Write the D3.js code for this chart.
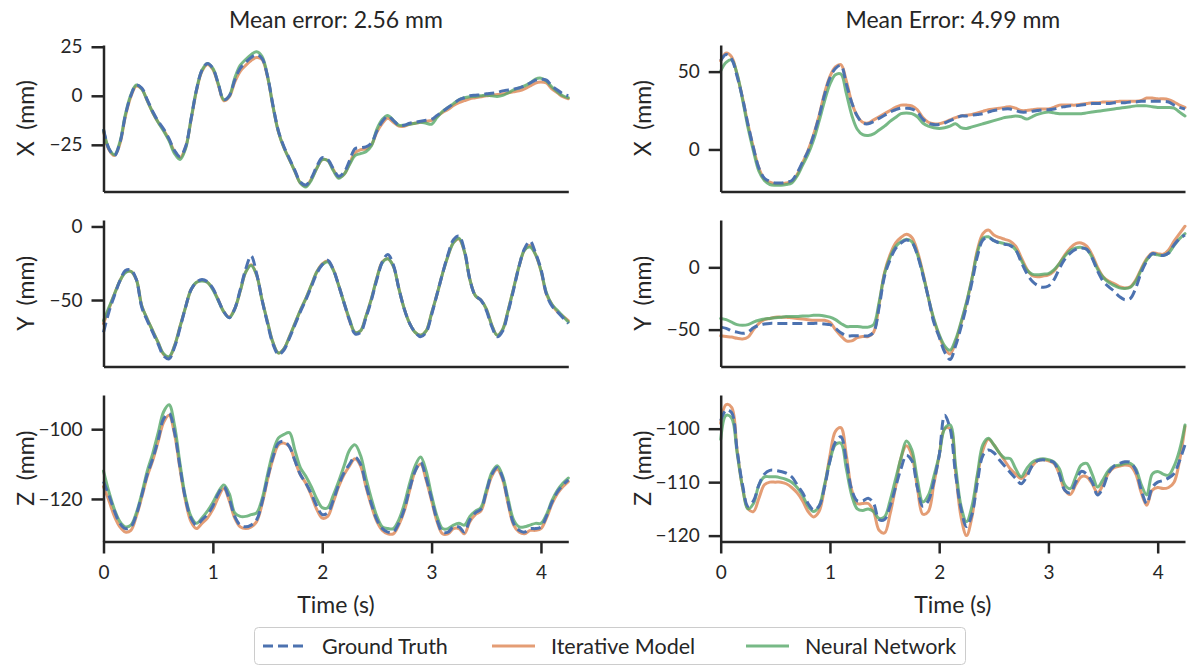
<!DOCTYPE html>
<html>
<head>
<meta charset="utf-8">
<script src="https://cdn.jsdelivr.net/npm/d3@7"></script>
<style>
  body { margin: 0; background: #fff; }
  svg { font-family: Lato, "Open Sans", sans-serif; }
  text { white-space: pre; }
</style>
</head>
<body>
<svg id="chart" width="1191" height="666"></svg>
<script>
// Time axis shared by every panel (seconds)
const time = [
  0,0.05,0.1,0.15,0.2,0.25,0.3,0.35,0.4,0.45,
  0.5,0.55,0.6,0.65,0.7,0.75,0.8,0.85,0.9,0.95,
  1,1.05,1.1,1.15,1.2,1.25,1.3,1.35,1.4,1.45,
  1.5,1.55,1.6,1.65,1.7,1.75,1.8,1.85,1.9,1.95,
  2,2.05,2.1,2.15,2.2,2.25,2.3,2.35,2.4,2.45,
  2.5,2.55,2.6,2.65,2.7,2.75,2.8,2.85,2.9,2.95,
  3,3.05,3.1,3.15,3.2,3.25,3.3,3.35,3.4,3.45,
  3.5,3.55,3.6,3.65,3.7,3.75,3.8,3.85,3.9,3.95,
  4,4.05,4.1,4.15,4.2,4.25
];

const seriesNames = ["Ground Truth", "Iterative Model", "Neural Network"];
const titles = ["Mean error: 2.56 mm", "Mean Error: 4.99 mm"];
const axisNames = ["X", "Y", "Z"];
const xTicks = [0, 1, 2, 3, 4];

// ---- left trial, X ----
const lxTruth = [
  -17,-27,-30.5,-24,-10,0,5.5,4,-2,-8,
  -13,-17,-22,-28,-31,-26,-12,3,13,16.5,
  14,6,-2,0,8,14,17,19.5,21,19,
  10,-5,-18,-26,-32,-38,-44,-45.5,-42,-36,
  -31.5,-32.5,-37,-41,-39,-33,-27,-26.5,-26,-24,
  -18,-13,-10.5,-12.5,-15,-15,-14,-13.5,-13,-12.5,
  -12,-10,-8,-6,-4,-2,-1,0,0.3,0.5,
  1,1.3,1.7,2.5,3,3.5,4,5,6.5,8,
  8.5,8,5,3,1,0
];
const lxIter = [
  -18,-27.5,-30.5,-24.5,-10.5,-0.5,5,3.5,-2.5,-8.5,
  -13.5,-17.5,-22.5,-28.5,-31.5,-26.5,-12.5,2.5,12.5,16,
  13.5,5.5,-2.5,-0.5,7,12.5,15.5,18,19.5,18.5,
  9.5,-5.5,-18.5,-26.5,-32.5,-38.5,-44.5,-46,-42.5,-37,
  -32.5,-33,-37.5,-41.5,-40,-34.5,-29,-27.5,-27,-25,
  -18.5,-14,-11.5,-13.5,-15.5,-15.5,-14.5,-14,-13.5,-13,
  -12.5,-10.5,-8.5,-7,-5,-3.5,-2.5,-1.5,-1,-0.5,
  0,0.3,0.7,1,1.5,2,2.5,3.5,5,6.5,
  7,6.5,3.5,1.5,-0.5,-1.5
];
const lxNet = [
  -17.5,-27,-30,-23.5,-9.5,0.5,5.5,3.5,-2.5,-8.5,
  -13.5,-18,-23,-29.5,-32.5,-27,-12,3,13,16.5,
  14,6,-2,0,9,15.5,18.5,21,22.5,20,
  10,-5.5,-18.5,-26.5,-32.5,-38.5,-44.5,-46.5,-43,-37,
  -32.5,-33,-38,-42,-40,-35,-30.5,-29.5,-28.5,-25.5,
  -17,-12,-10,-12.5,-15,-15,-14.5,-14,-13.5,-14,
  -14.5,-11,-8,-6,-4,-2,-1,-0.5,-0.3,0,
  0.3,0,-0.3,0.2,1.5,3,4,5,6.5,8.5,
  9,7.5,4.5,2,0,-1
];

// ---- left trial, Y ----
const lyTruth = [
  -72,-58,-47,-37,-30,-29.5,-36,-55,-64,-72,
  -80,-88,-90,-82,-69,-55,-43,-38,-36,-37.5,
  -42,-50,-58,-62,-56,-43,-29,-20,-32,-50,
  -66,-80,-87,-84,-76,-67,-58,-50,-41,-32,
  -26,-23,-29,-40,-52,-64,-73,-72,-62,-50,
  -36,-24,-19,-26,-42,-56,-66,-72,-75,-72,
  -60,-46,-32,-19,-9,-6.5,-16,-36,-47,-50,
  -57,-68,-75,-71,-58,-43,-27,-15,-10,-18,
  -29,-46,-54,-58,-62,-66
];
const lyIter = [
  -66,-56,-46,-37,-31,-30.5,-36,-54,-63,-71,
  -79,-87,-89,-81,-68,-55,-43,-38,-36.5,-38,
  -42.5,-50,-58,-61.5,-56,-44,-31,-26,-33,-50,
  -65,-79,-86,-83,-75,-66,-57,-49,-40,-31,
  -25.5,-23.5,-29,-40,-52,-64,-72,-71,-61,-49,
  -35,-24,-22,-27,-42,-56,-66,-72,-74,-71,
  -59,-46,-32,-20,-11,-8.5,-17,-36,-47,-50,
  -56,-67,-74,-70,-57,-42,-27,-16,-13,-19,
  -30,-46,-53,-58,-61,-64
];
const lyNet = [
  -64,-55,-46,-37,-31.5,-30.5,-36,-54,-63,-71,
  -79,-86.5,-88.5,-81,-68,-55,-43,-38,-37,-38,
  -43,-50.5,-58,-62,-56,-44,-31,-26.5,-33,-50,
  -65,-79,-86,-83,-75,-66,-57,-49,-40,-31,
  -26,-24,-29.5,-40,-52,-63,-72,-71,-61,-49,
  -35,-24.5,-22,-27,-42,-56,-66,-72,-74,-71,
  -59,-46,-32,-20,-11,-8,-17,-36,-47,-50,
  -56,-67,-74,-70,-57,-42,-27,-16,-14,-19,
  -30,-45,-53,-57,-61,-65
];

// ---- left trial, Z ----
const lzTruth = [
  -115,-119,-123.5,-127,-128.5,-128,-124.5,-119,-113,-108.5,
  -103,-97,-95.5,-101,-111,-120,-125.5,-127.5,-126,-124.5,
  -122,-118.5,-116.5,-120,-125,-127.5,-128,-127.5,-126,-121,
  -114,-108,-104,-103.5,-105,-109,-113,-115.5,-118.5,-122,
  -124.5,-124,-120.5,-116,-112.5,-110,-108,-110,-116,-121.5,
  -126,-128.5,-129.5,-129.5,-127,-123,-117,-112,-109.5,-114,
  -120,-126,-129.5,-129.5,-128,-128,-129.5,-126,-124,-123,
  -118,-113,-111,-114,-121,-127,-129,-129.5,-128.5,-128.5,
  -128,-125,-121,-118,-116,-114.5
];
const lzIter = [
  -116.5,-120.5,-125,-128,-129.5,-129,-125,-119.5,-113.5,-109,
  -103.5,-98,-96,-101.5,-111.5,-120.5,-126.5,-128.5,-127,-125.5,
  -123,-119.5,-117,-120.5,-125.5,-128,-128.5,-128,-126.5,-121.5,
  -114.5,-108.5,-104.5,-104,-105,-109,-113,-115.5,-119,-123,
  -125.5,-125,-121,-116.5,-113,-110.5,-108.5,-110.5,-116.5,-122,
  -126.5,-129,-130,-130,-127.5,-123.5,-117.5,-112,-110,-114.5,
  -120.5,-126.5,-130,-130,-128.5,-128.5,-130,-126.5,-124.5,-123.5,
  -118.5,-113.5,-111.5,-114.5,-121.5,-127.5,-129.5,-130,-129,-129,
  -128.5,-125.5,-121.5,-118.5,-116.5,-115
];
const lzNet = [
  -112,-118,-123,-126.5,-128,-127.5,-124,-118.5,-112,-107,
  -101,-95,-93,-99,-110,-119.5,-125,-127,-125.5,-123.5,
  -121,-118,-116,-118.5,-124,-125,-125,-124.5,-124,-120,
  -113,-106.5,-102.5,-101.5,-101,-106,-111,-113.5,-116.5,-120,
  -122.5,-122.5,-119,-115,-110.5,-106,-104.5,-107.5,-114,-120,
  -125,-128,-128.5,-128.5,-126,-121.5,-115.5,-110.5,-108,-112,
  -119,-125,-128.5,-128.5,-127.5,-127,-127.5,-125,-123.5,-122.5,
  -117.5,-112.5,-110.5,-113.5,-120,-126,-128,-128,-127.5,-127,
  -127,-124.5,-120.5,-117.5,-115.5,-114
];

// ---- right trial, X ----
const rxTruth = [
  57,61,58,47,33,16,1,-12,-18.5,-20.5,
  -21.5,-21.5,-21,-20,-15,-8,-1,9,21,35,
  46,52,54,42,30,21.5,17,16.5,18,20,
  22,24,25.5,26.5,26.5,26,24,19.5,17,16,
  16,17,18.5,20,21.5,21.5,22,22.5,23,24,
  25,25.5,26,26,25,24,24,24.5,25,25.5,
  25.5,26,27,27.5,28,28,28.5,29,29.5,29.5,
  29.5,29.5,30,30,30,30.5,30.5,31,31,31,
  31,31,30.5,28.5,27,26
];
const rxIter = [
  57,62,59.5,48,33,16,1,-12,-19,-21,
  -22,-22,-21.5,-20.5,-16,-8.5,-0.5,9.5,21.5,36,
  47,53,54.5,44,30,21.5,17.5,17,19,21,
  23,25,27,28.5,28.5,28,25.5,20.5,17.5,16.5,
  16.5,17.5,19,20.5,21.5,22,22.5,23.5,24.5,25.5,
  26,26.5,27,27.5,26.5,25,25,25.5,26,26,
  26,27,28.5,28.5,28.5,28.5,29,29.5,30,30,
  30.5,30.5,30.5,31,31,31,31,31.5,33,33,
  32.5,32.5,32,30.5,28.5,27
];
const rxNet = [
  50.5,56,57.5,48.5,32,14,-1,-14,-20,-22.5,
  -23,-23,-22.5,-21.5,-17,-10,-3,6,18,31,
  42,48,48.5,36,22,13,9.5,9,10,12.5,
  15,18,20.5,23,23.5,23,21,17,15,14,
  13.5,14,15,16.5,14,13.5,14.5,15.5,16.5,17.5,
  18.5,19.5,20.5,21,21.5,21,19.5,21,22.5,23.5,
  24,23.5,23,23,23,23,23,23.5,24,24.5,
  25,25.5,26,26.5,27,27.5,28,28,28,27.5,
  27,27,27,26.5,24,21.5
];

// ---- right trial, Y ----
const ryTruth = [
  -48,-49,-51,-52,-53,-52,-48.5,-46.5,-45.5,-45,
  -45,-45,-45,-45,-45,-45,-45,-45,-45,-45.5,
  -46,-49,-52.5,-55,-55,-55,-55,-55,-52,-32,
  -7,6,15,19.5,22,20,10,-6,-24,-44,
  -56,-68,-74,-63,-48,-31,-12,9,22,24,
  21.5,19.5,18.5,17.5,14,4.5,-4.5,-11,-14.5,-16,
  -15,-10,-1,6.5,11.5,14.5,15.5,14.5,7.5,-3,
  -11,-15.5,-19,-23.5,-26,-25,-16.5,-4,5,11,
  10,9.5,11.5,18,23,26
];
const ryIter = [
  -55,-55.5,-56,-57,-57.5,-56,-50,-45,-42,-41,
  -40,-40,-40,-40.5,-41,-41.5,-42,-42.5,-42.5,-42.5,
  -44,-50,-55,-59,-59,-56.5,-55.5,-55.5,-52,-30,
  -4,10,19.5,24,26.5,24,13,-4,-24,-42,
  -55,-65,-69.5,-60,-45,-29,-9,14,27,30,
  26,24,22.5,21,17,8,-1,-6.5,-7.5,-7,
  -6,-3,3,10,15.5,19,19.5,17,10,0,
  -7.5,-11,-13,-15.5,-16.5,-15.5,-10,-1,7,11.5,
  11,10.5,14,21,27,33
];
const ryNet = [
  -41,-42,-44,-46,-46.5,-46,-44,-42.5,-41.5,-41,
  -40.5,-40,-39.5,-39.5,-39.5,-39,-39,-38.5,-38.5,-39,
  -40,-42,-45,-47.5,-47.5,-47.5,-48,-48,-46,-28,
  -5,8,16.5,20.5,22.5,20.5,10.5,-5,-24,-41,
  -54,-63,-66.5,-58,-44,-28,-9,12,23.5,24.5,
  21.5,20,19,18,14,6,-2,-5.5,-6,-5.5,
  -5,-2,3,9,13.5,15.5,16,14.5,8,-1.5,
  -8,-12,-14.5,-16.5,-17,-16,-11,-2,6,10.5,
  10,9.5,11.5,17.5,23,27
];

// ---- right trial, Z ----
const rzTruth = [
  -98.5,-96.5,-97,-104,-110.5,-114.5,-113.5,-110.5,-108.5,-107.8,
  -107.8,-108,-108.3,-109,-110.5,-112,-114,-115.2,-114.5,-111,
  -106,-102.5,-101.5,-106,-111.5,-113.5,-113.5,-113,-114,-117,
  -117,-114.5,-111,-107.5,-105,-106,-111,-114.5,-113.5,-110,
  -105,-97.5,-100,-108.5,-115,-118.3,-116,-110,-105,-104,
  -104.5,-105.8,-107,-108.2,-109.3,-110.3,-109,-107,-106,-105.8,
  -106,-106.3,-108.5,-111.5,-112,-110,-108,-108.5,-110,-112.4,
  -111,-108.3,-107,-106.5,-106.2,-106.3,-107.8,-111.5,-114,-111,
  -110,-109.7,-109.2,-108.4,-106,-103
];
const rzIter = [
  -99,-95.5,-96,-104,-111,-115,-115.5,-113,-110.5,-110,
  -110,-110,-110.3,-111,-112,-113.5,-115.5,-116.5,-115.5,-111,
  -105,-100.5,-99.8,-105,-111.5,-114,-114,-114,-115.5,-119,
  -119.5,-116,-111,-105.5,-103.2,-105,-111,-116,-115.5,-110.5,
  -105,-100,-100,-108,-116.5,-120,-116.5,-109,-104,-102,
  -103,-104.5,-106,-107.5,-108.5,-109.3,-108.5,-107,-106,-105.8,
  -106,-106.5,-108.5,-111.5,-112.3,-110.5,-109,-109,-110.3,-112,
  -110.5,-108.3,-107.3,-107,-106.8,-107,-108.5,-112,-114.3,-111.5,
  -111,-111.2,-111,-110,-106,-99.6
];
const rzNet = [
  -102,-97.5,-98,-104.5,-111,-115,-114,-110.5,-109,-109,
  -109,-109.2,-109.5,-110,-111,-112.5,-114.5,-115.5,-114.5,-110.5,
  -106,-103,-102.7,-107.5,-112.5,-115,-115.3,-115,-115.5,-116.8,
  -116.5,-113.5,-109.5,-105.5,-102.3,-104,-109.5,-113.7,-112.5,-109,
  -105,-100,-99.3,-107,-114.5,-117.4,-114.5,-108.5,-103,-101.8,
  -103,-104.5,-105.5,-105.6,-107.5,-109,-107.5,-106.3,-105.8,-105.6,
  -105.8,-106.2,-107.5,-110.5,-111.2,-109,-106.8,-106.5,-108.5,-110.9,
  -109.5,-107.8,-107,-106.8,-106.5,-106.5,-107.5,-110.5,-112.4,-108.5,
  -108,-108.5,-108.7,-107,-104,-99.3
];

// y-axis limits and ticks for each panel (row = axis, col = trial)
const yLimits = [
  [[-48.8, 25.9], [-27.0, 67.1]],
  [[-95.2, 4.4], [-79.6, 38.0]],
  [[-132.2, -90.2], [-121.1, -93.7]]
];
const yTicks = [
  [[-25, 0, 25], [0, 50]],
  [[-50, 0], [-50, 0]],
  [[-120, -100], [-120, -110, -100]]
];

// ---- layout ----
const colX = [[103.5, 568.3], [720.7, 1185]];
const rowTop = [45, 220, 395];
const rowH = 146.5;
const ink = "#262626";
const colors = ["#4C72B0", "#DD8452", "#55A868"];
const tickFont = 19;
const labelFont = 23;

// panel table built from the arrays above
const panelData = [
  [[lxTruth, lxIter, lxNet], [rxTruth, rxIter, rxNet]],
  [[lyTruth, lyIter, lyNet], [ryTruth, ryIter, ryNet]],
  [[lzTruth, lzIter, lzNet], [rzTruth, rzIter, rzNet]]
];

const svg = d3.select("#chart");

function styleAxis(g) {
  g.select(".domain").attr("stroke", ink).attr("stroke-width", 2.5);
  g.selectAll(".tick line").attr("stroke", ink).attr("stroke-width", 2.5);
  g.selectAll(".tick text").attr("fill", ink).style("font-size", tickFont + "px")
    .style("font-family", "Lato, sans-serif");
}

for (let c = 0; c < 2; c++) {
  const x = d3.scaleLinear().domain([0, 4.25]).range(colX[c]);

  // column title
  svg.append("text")
    .attr("x", (colX[c][0] + colX[c][1]) / 2)
    .attr("y", 28)
    .attr("text-anchor", "middle")
    .attr("fill", ink)
    .style("font-size", labelFont + "px")
    .text(titles[c]);

  for (let r = 0; r < 3; r++) {
    const top = rowTop[r], bottom = top + rowH;
    const y = d3.scaleLinear().domain(yLimits[r][c]).range([bottom, top]);
    const g = svg.append("g");

    // lines: models first, ground truth dashed on top
    const line = d3.line()
      .x((d, i) => x(time[i]))
      .y(d => y(d))
      .curve(d3.curveCatmullRom);
    const order = [1, 2, 0];
    order.forEach(s => {
      g.append("path")
        .datum(panelData[r][c][s])
        .attr("d", line)
        .attr("fill", "none")
        .attr("stroke", colors[s])
        .attr("stroke-opacity", s === 0 ? 1 : 0.8)
        .attr("stroke-width", 3)
        .attr("stroke-dasharray", s === 0 ? "10,5" : null)
        .attr("stroke-linecap", s === 0 ? "butt" : "round");
    });

    // y axis
    const ya = g.append("g")
      .attr("transform", `translate(${colX[c][0]},0)`)
      .call(d3.axisLeft(y).tickValues(yTicks[r][c]).tickSize(12).tickSizeOuter(0).tickPadding(9));
    styleAxis(ya);

    // x axis (ticks only on bottom row)
    const xa = g.append("g")
      .attr("transform", `translate(0,${bottom})`)
      .call(d3.axisBottom(x).tickValues(r === 2 ? xTicks : []).tickFormat(d3.format("d"))
        .tickSize(12).tickSizeOuter(0).tickPadding(12));
    styleAxis(xa);

    // y label
    const ly = (top + bottom) / 2;
    const lx = c === 0 ? 34 : 651;
    svg.append("text")
      .attr("transform", `translate(${lx},${ly}) rotate(-90)`)
      .attr("text-anchor", "middle")
      .attr("fill", ink)
      .style("font-size", labelFont + "px")
      .text(axisNames[r] + "  (mm)");
  }

  // x label
  svg.append("text")
    .attr("x", (colX[c][0] + colX[c][1]) / 2)
    .attr("y", 613)
    .attr("text-anchor", "middle")
    .attr("fill", ink)
    .style("font-size", labelFont + "px")
    .text("Time (s)");
}

// legend
const legend = svg.append("g");
legend.append("rect")
  .attr("x", 254.5).attr("y", 627.5)
  .attr("width", 711).attr("height", 37)
  .attr("rx", 4)
  .attr("fill", "#fff")
  .attr("stroke", "#cccccc")
  .attr("stroke-width", 1);
const legendX = [263, 492, 746];
seriesNames.forEach((name, i) => {
  legend.append("line")
    .attr("x1", legendX[i]).attr("x2", legendX[i] + 43)
    .attr("y1", 646).attr("y2", 646)
    .attr("stroke", colors[i])
    .attr("stroke-opacity", i === 0 ? 1 : 0.8)
    .attr("stroke-width", 3)
    .attr("stroke-dasharray", i === 0 ? "10,5" : null);
  legend.append("text")
    .attr("x", legendX[i] + 59)
    .attr("y", 653.5)
    .attr("fill", ink)
    .style("font-size", "21.5px")
    .text(name);
});
</script>
</body>
</html>
